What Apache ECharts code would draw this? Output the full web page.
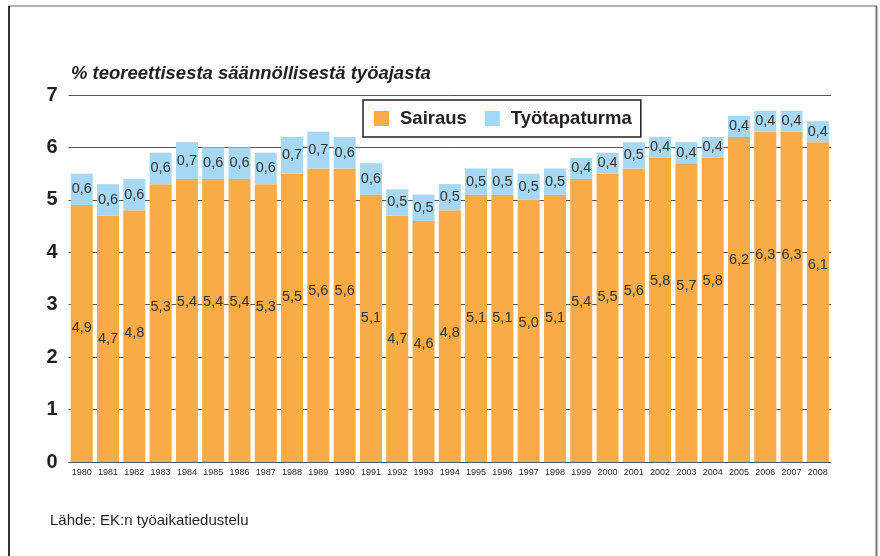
<!DOCTYPE html>
<html lang="fi">
<head>
    <meta charset="UTF-8">
    <title>Sairaus ja työtapaturma</title>
    <script src="https://cdn.jsdelivr.net/npm/echarts@6/dist/echarts.min.js"></script>
    <style>
        html, body { margin: 0; padding: 0; background: #fff; }
        #main { width: 880px; height: 556px; }
    </style>
</head>
<body>
    <div id="main"></div>
    <script type="text/javascript">
        var years = ['1980', '1981', '1982', '1983', '1984', '1985', '1986', '1987', '1988', '1989',
            '1990', '1991', '1992', '1993', '1994', '1995', '1996', '1997', '1998', '1999',
            '2000', '2001', '2002', '2003', '2004', '2005', '2006', '2007', '2008'];
        var sairaus = [4.9, 4.7, 4.8, 5.3, 5.4, 5.4, 5.4, 5.3, 5.5, 5.6,
            5.6, 5.1, 4.7, 4.6, 4.8, 5.1, 5.1, 5.0, 5.1, 5.4,
            5.5, 5.6, 5.8, 5.7, 5.8, 6.2, 6.3, 6.3, 6.1];
        var tyotapaturma = [0.6, 0.6, 0.6, 0.6, 0.7, 0.6, 0.6, 0.6, 0.7, 0.7,
            0.6, 0.6, 0.5, 0.5, 0.5, 0.5, 0.5, 0.5, 0.5, 0.4,
            0.4, 0.5, 0.4, 0.4, 0.4, 0.4, 0.4, 0.4, 0.4];

        var font = 'Liberation Sans, Arial, sans-serif';
        function fmt(p) {
            return p.value.toFixed(1).replace('.', ',');
        }

        var myChart = echarts.init(document.getElementById('main'));
        var option = {
            animation: false,
            backgroundColor: '#fff',
            textStyle: { fontFamily: font },
            title: {
                text: '% teoreettisesta säännöllisestä työajasta',
                left: 66,
                top: 59,
                textStyle: {
                    fontFamily: font,
                    fontSize: 18.5,
                    fontWeight: 'bold',
                    fontStyle: 'italic',
                    color: '#231f20'
                }
            },
            legend: {
                left: 363,
                top: 100,
                padding: [9, 9, 9, 11],
                borderColor: '#231f20',
                borderWidth: 1.5,
                backgroundColor: '#fff',
                itemWidth: 15,
                itemHeight: 15,
                itemGap: 18,
                icon: 'rect',
                textStyle: {
                    fontFamily: font,
                    fontSize: 18.5,
                    fontWeight: 'bold',
                    color: '#231f20',
                    padding: [0, 0, 0, 6]
                },
                data: ['Sairaus', 'Työtapaturma']
            },
            grid: {
                left: 68.6,
                right: 49,
                top: 95,
                bottom: 94
            },
            xAxis: {
                type: 'category',
                data: years,
                axisLine: { lineStyle: { color: '#555', width: 1 } },
                axisTick: { show: false },
                axisLabel: {
                    fontSize: 9,
                    color: '#231f20',
                    margin: 6,
                    interval: 0
                }
            },
            yAxis: {
                type: 'value',
                min: 0,
                max: 7,
                interval: 1,
                axisLine: { show: false },
                axisTick: { show: false },
                axisLabel: {
                    fontSize: 20,
                    fontWeight: 'bold',
                    color: '#231f20',
                    margin: 11
                },
                splitLine: { lineStyle: { color: '#555', width: 1 } }
            },
            series: [{
                name: 'Sairaus',
                type: 'bar',
                stack: 'total',
                barWidth: 22,
                itemStyle: { color: '#f9ab48' },
                label: {
                    show: true,
                    position: ['50%', 123],
                    align: 'center',
                    verticalAlign: 'middle',
                    fontSize: 14.5,
                    color: '#333',
                    formatter: fmt
                },
                data: sairaus
            }, {
                name: 'Työtapaturma',
                type: 'bar',
                stack: 'total',
                barWidth: 22,
                itemStyle: { color: '#a6d8f3' },
                label: {
                    show: true,
                    position: 'inside',
                    fontSize: 14.5,
                    color: '#333',
                    formatter: fmt
                },
                data: tyotapaturma
            }],
            graphic: [{
                type: 'line',
                shape: { x1: 8, y1: 6, x2: 877, y2: 6 },
                style: { stroke: '#999', lineWidth: 1.5 }
            }, {
                type: 'line',
                shape: { x1: 9, y1: 6, x2: 9, y2: 556 },
                style: { stroke: '#333', lineWidth: 2 }
            }, {
                type: 'line',
                shape: { x1: 876.5, y1: 6, x2: 876.5, y2: 556 },
                style: { stroke: '#777', lineWidth: 2 }
            }, {
                type: 'text',
                left: 50,
                top: 513,
                style: {
                    text: 'Lähde: EK:n työaikatiedustelu',
                    fontFamily: font,
                    fontSize: 15,
                    fill: '#231f20'
                }
            }]
        };
        myChart.setOption(option);
        window.onresize = myChart.resize;
    </script>
</body>
</html>
